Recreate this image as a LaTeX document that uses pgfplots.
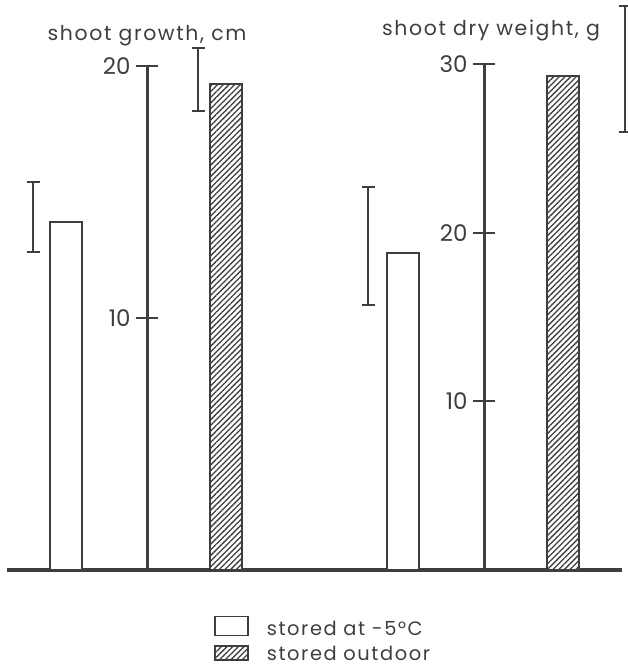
\documentclass[border=0pt]{standalone}
\usepackage{fontspec}
\setmainfont{Poppins}
\usepackage{pgfplots}
\pgfplotsset{compat=1.18}
\usetikzlibrary{patterns.meta}
\definecolor{ink}{RGB}{62,62,62}
\newcommand{\lblfont}{\fontsize{20.5}{22}\selectfont\addfontfeatures{LetterSpace=8}}
\newcommand{\legfont}{\fontsize{19.5}{21}\selectfont\addfontfeatures{LetterSpace=8}}
\begin{document}
\begin{tikzpicture}[x=1bp,y=1bp]
\pgfplotsset{
  panel/.style={
    x=1bp, clip=false, axis x line=none, axis y line=left,
    y axis line style={-, line width=3bp, draw=ink},
    ymin=0,
    major tick length=22bp, tick align=center,
    ytick style={line width=2bp, draw=ink},
    /pgf/number format/assume math mode=true,
    yticklabel style={font=\fontsize{23}{25}\selectfont, text=ink, xshift=-2bp},
  },
  wbar/.style={ybar, bar width=32, bar shift=0pt, draw=ink, line width=2bp, fill=white, forget plot},
  hbar/.style={ybar, bar width=32, bar shift=0pt, draw=ink, line width=2bp, fill=white,
    postaction={pattern={Lines[angle=45,distance=4bp,line width=1.3bp]}, pattern color=ink}, forget plot},
  ebar/.style={draw=none, mark=none, forget plot,
    error bars/.cd, y dir=both, y explicit,
    error bar style={line width=2bp, draw=ink},
    error mark options={rotate=90, mark size=6.5bp, line width=2bp, draw=ink}},
}
% left panel: shoot growth
\begin{axis}[panel, y=25.2bp, xmin=147, xmax=400, ymax=20, ytick={10,20},
  at={(147bp,100bp)}, anchor=south west,
  legend style={at={(axis cs:211,-1.72)}, anchor=north west, draw=none, fill=none,
    font=\legfont, text=ink, row sep=5bp, cells={anchor=base west}}]
\addplot[ink, line width=3bp, forget plot] coordinates {(7,0) (622,0)};
\addplot[wbar] coordinates {(66,13.8)};
\addplot[hbar] coordinates {(225.5,19.3)};
\addplot[ebar] coordinates {(33,14.0) +- (0,1.4) (198,19.45) +- (0,1.25)};
\addlegendimage{legend image code/.code={\draw[draw=ink, line width=1.5bp, fill=white] (0bp,0bp) rectangle (33bp,19bp); \path[draw=none,fill=none] (0bp,0bp) -- (50bp,0bp);}}
\addlegendentry{stored at -5°C}
\addlegendimage{legend image code/.code={\draw[draw=ink, line width=1.5bp, fill=white, postaction={pattern={Lines[angle=45,distance=4bp,line width=1.3bp]}, pattern color=ink}] (0bp,0bp) rectangle (33bp,14bp); \path[draw=none,fill=none] (0bp,0bp) -- (50bp,0bp);}}
\addlegendentry{stored outdoor}
\node[anchor=base, font=\lblfont, text=ink] at (axis cs:147,21.0) {shoot growth, cm};
\end{axis}
% right panel: shoot dry weight
\begin{axis}[panel, y=16.87bp, xmin=484, xmax=628, ymax=30, ytick={10,20,30},
  at={(484bp,100bp)}, anchor=south west]
\addplot[wbar] coordinates {(402.5,18.8)};
\addplot[hbar] coordinates {(562.5,29.3)};
\addplot[ebar] coordinates {(368,19.2) +- (0,3.5) (625,29.7) +- (0,3.75)};
\node[anchor=base, font=\lblfont, text=ink] at (axis cs:491,31.7) {shoot dry weight, g};
\end{axis}
\pgfresetboundingbox
\path[use as bounding box] (0,0) rectangle (628bp,670bp);
\end{tikzpicture}
\end{document}
